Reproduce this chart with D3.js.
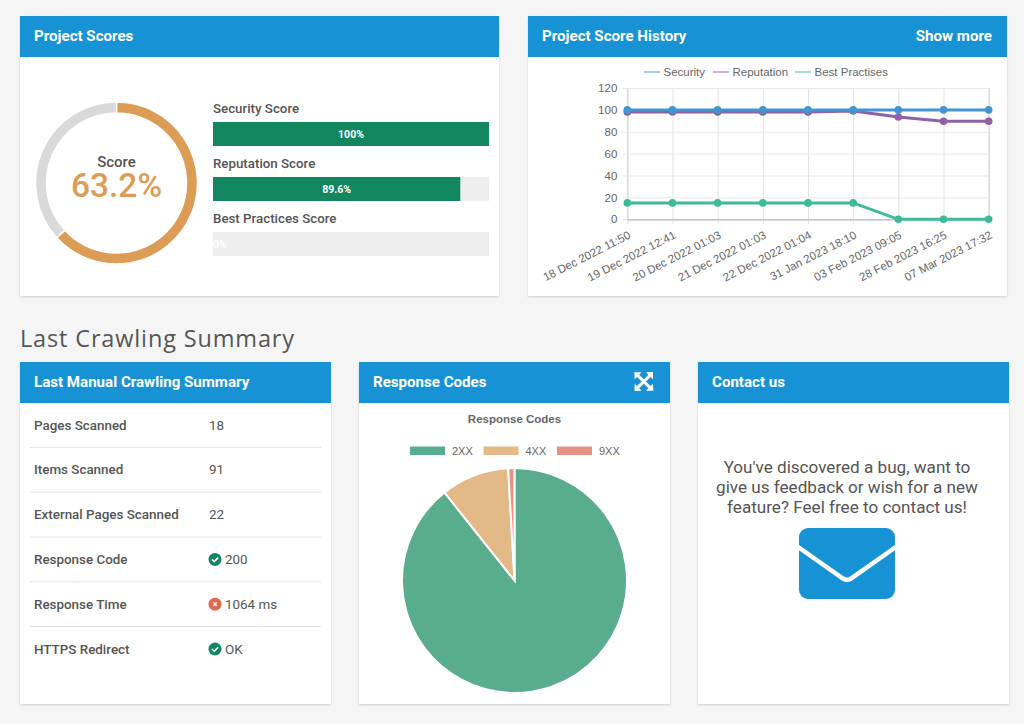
<!DOCTYPE html>
<html>
<head>
<meta charset="utf-8">
<script src="https://cdn.jsdelivr.net/npm/d3@7"></script>
<style>
html,body{margin:0;padding:0;background:#f5f5f5;overflow:hidden}
svg{display:block;font-family:Roboto,sans-serif}
</style>
</head>
<body>
<script>
// data
var projectScore = 63.2;
var scoreNames = ['Security Score','Reputation Score','Best Practices Score'];
var scoreValues = [100,89.6,0];
var scoreLabels = ['100%','89.6%','0%'];

var historyDates = ['18 Dec 2022 11:50','19 Dec 2022 12:41','20 Dec 2022 01:03','21 Dec 2022 01:03','22 Dec 2022 01:04','31 Jan 2023 18:10','03 Feb 2023 09:05','28 Feb 2023 16:25','07 Mar 2023 17:32'];
var historyTicks = [0,20,40,60,80,100,120];
var securityHistory = [100,100,100,100,100,100,100,100,100];
var reputationHistory = [98,98,98,98,98,99,93.5,89.6,89.6];
var practicesHistory = [15,15,15,15,15,15,0,0,0];
var historyNames = ['Security','Reputation','Best Practises'];

var summaryLabels = ['Pages Scanned','Items Scanned','External Pages Scanned','Response Code','Response Time','HTTPS Redirect'];
var summaryValues = ['18','91','22','200','1064 ms','OK'];
var summaryStatus = [null,null,null,'ok','bad','ok'];

var codeNames = ['2XX','4XX','9XX'];
var codeValues = [89.3,9.8,0.9];

var contactLines = ["You've discovered a bug, want to","give us feedback or wish for a new","feature? Feel free to contact us!"];

var blue = '#1793d5', green = '#12875f', grey = '#555';

var svg = d3.select('body').append('svg').attr('width',1024).attr('height',724);

var defs = svg.append('defs');
var blur = defs.append('filter').attr('id','cardShadow').attr('x','-5%').attr('y','-5%').attr('width','110%').attr('height','110%');
blur.append('feDropShadow').attr('dx',0).attr('dy',1).attr('stdDeviation',1).attr('flood-color','#000').attr('flood-opacity',0.16);

function card(x,y,w,h,title){
	svg.append('rect').attr('x',x).attr('y',y).attr('width',w).attr('height',h).attr('fill','#fff').attr('filter','url(#cardShadow)');
	svg.append('rect').attr('x',x).attr('y',y).attr('width',w).attr('height',41).attr('fill',blue);
	svg.append('text').attr('x',x+14).attr('y',y+25).attr('fill','#fff').attr('font-size',15.1).attr('font-weight',700).text(title);
}

card(20,16,479,280,'Project Scores');
card(528,16,479,280,'Project Score History');
svg.append('text').attr('x',992).attr('y',41).attr('text-anchor','end').attr('fill','#fff').attr('font-size',15.1).attr('font-weight',700).text('Show more');

svg.append('text').attr('x',20).attr('y',347).attr('fill','#555').attr('font-family','"Open Sans",sans-serif').attr('font-size',23.5).attr('letter-spacing',0.85).text('Last Crawling Summary');

card(20,362,311,342,'Last Manual Crawling Summary');
card(359,362,311,342,'Response Codes');
card(698,362,311,342,'Contact us');

// score donut
var donut = svg.append('g').attr('transform','translate(116.5,183)');
var scorePie = d3.pie().sort(null)([projectScore,100-projectScore]);
var scoreArc = d3.arc().innerRadius(70).outerRadius(81);
donut.selectAll('path').data(scorePie).enter().append('path')
	.attr('d',scoreArc)
	.attr('fill',function(d,i){return i==0?'#dd9c56':'#d9d9d9'})
	.attr('stroke','#fff').attr('stroke-width',1.5);
donut.append('text').attr('text-anchor','middle').attr('y',-16).attr('fill',grey).attr('font-size',15).attr('font-weight',500).text('Score');
donut.append('text').attr('text-anchor','middle').attr('y',14).attr('fill','#dd9c56').attr('font-size',33.5).attr('font-weight',500).text(projectScore+'%');

// score bars
var barX = d3.scaleLinear().domain([0,100]).range([213,489]);
var barTops = d3.scaleOrdinal().domain(scoreNames).range([122,177,232]);
scoreNames.forEach(function(name,i){
	var top = barTops(name);
	svg.append('text').attr('x',213).attr('y',top-9).attr('fill',grey).attr('font-size',13.3).attr('font-weight',500).text(name);
	svg.append('rect').attr('x',barX(0)).attr('y',top).attr('width',barX(100)-barX(0)).attr('height',24).attr('fill','#eeeeee');
	svg.append('rect').attr('x',barX(0)).attr('y',top).attr('width',barX(scoreValues[i])-barX(0)).attr('height',24).attr('fill',green);
	// an empty bar still shows its label, starting at the left edge
	var labelX = (barX(0)+barX(scoreValues[i]))/2 + (scoreValues[i]==0?7:0);
	svg.append('text').attr('x',labelX).attr('y',top+15.5).attr('text-anchor','middle')
		.attr('fill','#fff').attr('font-size',10.5).attr('font-weight',700).text(scoreLabels[i]);
});

// history line chart
var x = d3.scalePoint().domain(historyDates).range([627.3,988.7]);
var y = d3.scaleLinear().domain([0,120]).range([219.3,88]);
var chartFont = '"Liberation Sans",Arial,sans-serif';

var xAxis = svg.append('g').attr('transform','translate(0,219.3)')
	.call(d3.axisBottom(x).tickSize(-131.3).tickPadding(6));
xAxis.select('.domain').attr('stroke','#bbb');
xAxis.selectAll('.tick line').attr('stroke','#e2e2e2').attr('y2',-131.3);
xAxis.selectAll('.tick').append('line').attr('y1',0).attr('y2',5).attr('stroke','#e2e2e2');
xAxis.selectAll('text').attr('font-family',chartFont).attr('font-size',11.5).attr('fill','#666')
	.attr('text-anchor','end').attr('x',-5).attr('y',18).attr('dy',0)
	.attr('transform','rotate(-27)');

var yAxis = svg.append('g').attr('transform','translate(627.3,0)')
	.call(d3.axisLeft(y).tickValues(historyTicks).tickSize(-361.4).tickPadding(10));
yAxis.select('.domain').remove();
yAxis.selectAll('.tick line').attr('stroke',function(d){return d==0?'#bbb':'#e8e8e8'});
yAxis.selectAll('.tick').append('line').attr('x1',-5).attr('x2',0).attr('stroke','#e8e8e8');
yAxis.selectAll('text').attr('font-family',chartFont).attr('font-size',11.5).attr('fill','#666');

var series = [
	{name:historyNames[0],values:securityHistory,color:'#4296cf',light:'#9fcdeb'},
	{name:historyNames[1],values:reputationHistory,color:'#8f5fa8',light:'#cdb0dc'},
	{name:historyNames[2],values:practicesHistory,color:'#3dba9a',light:'#9fe0cf'}
];
var line = d3.line().x(function(d,i){return x(historyDates[i])}).y(function(d){return y(d)});
series.slice().reverse().forEach(function(s){
	svg.append('path').attr('d',line(s.values)).attr('fill','none').attr('stroke',s.color).attr('stroke-width',3);
	svg.selectAll(null).data(s.values).enter().append('circle')
		.attr('cx',function(d,i){return x(historyDates[i])})
		.attr('cy',function(d){return y(d)})
		.attr('r',3.8).attr('fill',s.color);
});

var legendPos = [644,713,795];
series.forEach(function(s,i){
	svg.append('line').attr('x1',legendPos[i]).attr('x2',legendPos[i]+16).attr('y1',72).attr('y2',72).attr('stroke',s.light).attr('stroke-width',2);
	svg.append('text').attr('x',legendPos[i]+19.5).attr('y',76).attr('font-family',chartFont).attr('font-size',11.5).attr('fill','#666').text(s.name);
});

// summary table
var rowY = d3.scalePoint().domain(summaryLabels).range([425,649]);
summaryLabels.forEach(function(label,i){
	var cy = rowY(label);
	svg.append('text').attr('x',34).attr('y',cy+4.6).attr('fill',grey).attr('font-size',13.4).attr('font-weight',500).text(label);
	var status = summaryStatus[i];
	var textX = 209;
	if(status){
		textX = 225;
		svg.append('circle').attr('cx',215).attr('cy',cy).attr('r',6.5).attr('fill',status=='ok'?green:'#de6a52');
		if(status=='ok'){
			svg.append('path').attr('d','M'+212+' '+cy+'l2.2 2.2l4-4').attr('fill','none').attr('stroke','#fff').attr('stroke-width',1.6);
		}else{
			svg.append('path').attr('d','M'+213.4+' '+(cy-1.6)+'l3.2 3.2m0 -3.2l-3.2 3.2').attr('fill','none').attr('stroke','#fff').attr('stroke-width',1.4);
		}
	}
	svg.append('text').attr('x',textX).attr('y',cy+4.6).attr('fill',grey).attr('font-size',13.4).text(summaryValues[i]);
	if(i<summaryLabels.length-1){
		svg.append('line').attr('x1',30).attr('x2',321).attr('y1',cy+22.4).attr('y2',cy+22.4).attr('stroke','#e4e4e4');
	}
});

// response codes pie
var pieColors = d3.scaleOrdinal().domain(codeNames).range(['#59ad8e','#e4b988','#e69385']);
var pieG = svg.append('g').attr('transform','translate(514.5,580.5)');
pieG.selectAll('path').data(d3.pie().sort(null)(codeValues)).enter().append('path')
	.attr('d',d3.arc().innerRadius(0).outerRadius(112.5))
	.attr('fill',function(d,i){return pieColors(codeNames[i])})
	.attr('stroke','#fff').attr('stroke-width',2);
svg.append('text').attr('x',514.5).attr('y',423).attr('text-anchor','middle').attr('font-family',chartFont)
	.attr('font-size',11.5).attr('font-weight',700).attr('fill','#666').text('Response Codes');
var pieLegend = [409.5,483,556.5];
codeNames.forEach(function(name,i){
	svg.append('rect').attr('x',pieLegend[i]).attr('y',446).attr('width',36).attr('height',9.5)
		.attr('fill',pieColors(name)).attr('stroke','#fff').attr('stroke-width',1);
	svg.append('text').attr('x',pieLegend[i]+42.5).attr('y',455).attr('font-family',chartFont).attr('font-size',11).attr('fill','#666').text(name);
});

// expand icon
var expand = svg.append('g').attr('transform','translate(643.8,381.5)').attr('fill','#fff');
[0,90,180,270].forEach(function(r){
	expand.append('path').attr('transform','rotate('+r+')')
		.attr('d','M-9.5 -9.2H-2.3L-4.6 -6.8L0 -2.2L2 0L0 2L-2 0L-6.8 -4.6L-9.2 -2.3Z');
});

// contact
svg.selectAll('.contact').data(contactLines).enter().append('text')
	.attr('class','contact').attr('x',847).attr('text-anchor','middle')
	.attr('y',function(d,i){return 472.5+i*20})
	.attr('fill',grey).attr('font-size',17.1).text(function(d){return d});
svg.append('rect').attr('x',799).attr('y',528).attr('width',96).attr('height',71).attr('rx',9).attr('fill',blue);
svg.append('path').attr('d','M796 545.5L843 578.5Q847 581 851 578.5L898 545.5').attr('fill','none').attr('stroke','#fff').attr('stroke-width',4.5);
</script>
</body>
</html>
